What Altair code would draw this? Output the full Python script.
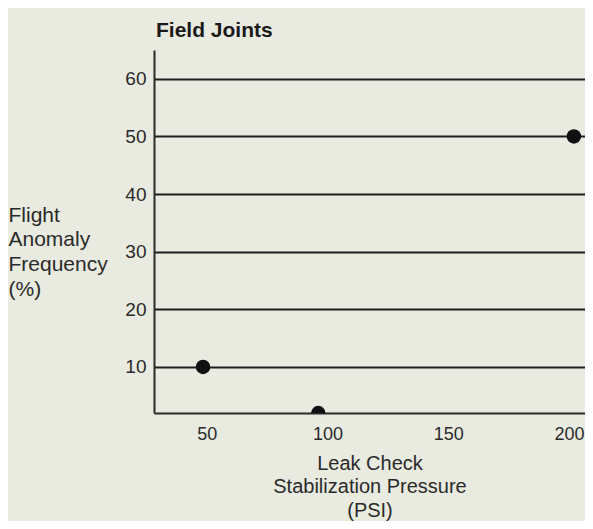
import altair as alt
import pandas as pd

pressure = [48.5, 96.2, 202]
anomaly_freq = [10, 2, 50]
x_ticks = [50, 100, 150, 200]
y_ticks = [10, 20, 30, 40, 50, 60]

df = pd.DataFrame({"pressure": pressure, "freq": anomaly_freq})

FONT = "Liberation Sans"
INK = "#2a2a2a"

chart = alt.Chart(df).mark_circle(size=210, color="#111111", opacity=1, clip=True).encode(
    x=alt.X("pressure:Q",
            scale=alt.Scale(domain=[28.2, 206.6], nice=False, zero=False),
            axis=alt.Axis(values=x_ticks, ticks=False, grid=False,
                          domainColor=INK, domainWidth=2,
                          labelFont=FONT, labelFontSize=18, labelColor=INK,
                          labelPadding=12,
                          title=["Leak Check", "Stabilization Pressure", "(PSI)"],
                          titleFont=FONT, titleFontSize=20, titleFontWeight="normal",
                          titleColor=INK, titleLineHeight=23.5, titlePadding=10)),
    y=alt.Y("freq:Q",
            scale=alt.Scale(domain=[2, 65], nice=False, zero=False),
            axis=alt.Axis(values=y_ticks, ticks=False, grid=True,
                          gridColor="#1e1e1e", gridWidth=2,
                          domainColor=INK, domainWidth=2,
                          labelFont=FONT, labelFontSize=19, labelColor=INK,
                          labelPadding=8,
                          title=["Flight", "Anomaly", "Frequency", "(%)"],
                          titleFont=FONT, titleFontSize=21, titleFontWeight="normal",
                          titleColor=INK, titleAngle=0, titleAlign="left",
                          titleBaseline="top", titleX=-146, titleY=154,
                          titleLineHeight=24.7)),
).properties(
    width=431,
    height=363,
    title=alt.TitleParams("Field Joints", anchor="start", frame="group",
                          font=FONT, fontSize=21, fontWeight="bold",
                          color="#1a1a1a", offset=9, dx=2),
    background="#e9eae0",
    padding={"left": 146, "top": 42, "right": 0, "bottom": 108},
    autosize=alt.AutoSizeParams(type="none"),
).configure_view(stroke=None)

chart.save("out.html", embed_options={"renderer": "svg", "actions": False})
